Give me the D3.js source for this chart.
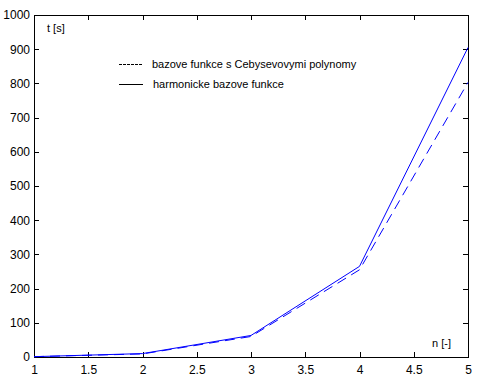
<!DOCTYPE html>
<html>
<head>
<meta charset="utf-8">
<script src="https://cdn.jsdelivr.net/npm/d3@7"></script>
<style>
  body { margin: 0; background: #fff; }
  text { font-family: "Liberation Sans", Arial, sans-serif; }
</style>
</head>
<body>
<div id="chart"></div>
<script>
let width = 487, height = 383,
    margin = { top: 15, right: 19, bottom: 26, left: 34 };

// data
const nValues = [1, 2, 3, 4, 5];
const cebysev = [1, 9, 60, 255, 803];     // dashed
const harmonic = [1, 10, 63, 265, 905];   // solid
const xTicks = [1, 1.5, 2, 2.5, 3, 3.5, 4, 4.5, 5];
const yTicks = [0, 100, 200, 300, 400, 500, 600, 700, 800, 900, 1000];

const svg = d3.select("#chart").append("svg")
    .attr("width", width).attr("height", height);

let x = d3.scaleLinear().domain([1, 5]).range([margin.left, width - margin.right]);
let y = d3.scaleLinear().domain([0, 1000]).range([height - margin.bottom, margin.top]);

const fmt = d => d;

// axes with inward ticks on all four sides
svg.append("g")
    .attr("transform", `translate(0,${height - margin.bottom})`)
    .call(d3.axisBottom(x).tickValues(xTicks).tickFormat(fmt).tickSizeInner(-5).tickSizeOuter(0).tickPadding(8));
svg.append("g")
    .attr("transform", `translate(0,${margin.top})`)
    .call(d3.axisTop(x).tickValues(xTicks).tickFormat("").tickSizeInner(-5).tickSizeOuter(0));
svg.append("g")
    .attr("transform", `translate(${margin.left},0)`)
    .call(d3.axisLeft(y).tickValues(yTicks).tickFormat(fmt).tickSizeInner(-5).tickSizeOuter(0).tickPadding(4));
svg.append("g")
    .attr("transform", `translate(${width - margin.right},0)`)
    .call(d3.axisRight(y).tickValues(yTicks).tickFormat("").tickSizeInner(-5).tickSizeOuter(0));

svg.selectAll(".domain").attr("stroke", "#000").attr("shape-rendering", "crispEdges");
svg.selectAll(".tick line").attr("stroke", "#000").attr("shape-rendering", "crispEdges");
svg.selectAll(".tick text").style("font-size", "12px").attr("fill", "#000");

let line = d3.line()
    .x((d, i) => x(nValues[i]))
    .y(d => y(d));

svg.append("path")
    .datum(cebysev)
    .attr("d", line)
    .attr("fill", "none")
    .attr("stroke", "#0000ff")
    .attr("stroke-dasharray", "10,6");

svg.append("path")
    .datum(harmonic)
    .attr("d", line)
    .attr("fill", "none")
    .attr("stroke", "#0000ff");

// axis labels
svg.append("text").attr("x", 47).attr("y", 32)
    .text("t [s]").style("font-size", "11px");
svg.append("text").attr("x", 432).attr("y", 347)
    .text("n [-]").style("font-size", "11px");

// legend
svg.append("line").attr("x1", 119).attr("x2", 143).attr("y1", 64.5).attr("y2", 64.5)
    .attr("stroke", "#000").attr("stroke-dasharray", "3,1");
svg.append("text").attr("x", 152).attr("y", 68)
    .text("bazove funkce s Cebysevovymi polynomy").style("font-size", "11px");
svg.append("line").attr("x1", 119).attr("x2", 143).attr("y1", 84.5).attr("y2", 84.5)
    .attr("stroke", "#000");
svg.append("text").attr("x", 153).attr("y", 88)
    .text("harmonicke bazove funkce").style("font-size", "11px");
</script>
</body>
</html>
